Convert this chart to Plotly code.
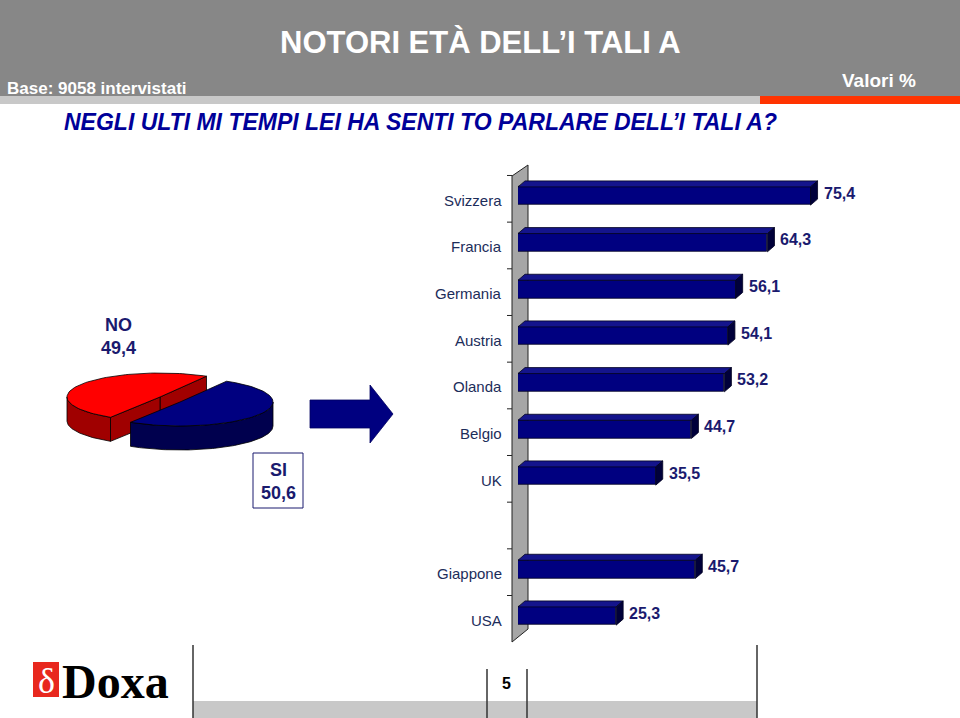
import numpy as np
import plotly.graph_objects as go

# ---------------- data ----------------
countries = ["Svizzera", "Francia", "Germania", "Austria", "Olanda", "Belgio", "UK", "Giappone", "USA"]
values = [75.4, 64.3, 56.1, 54.1, 53.2, 44.7, 35.5, 45.7, 25.3]
groups = ["Europa"] * 7 + ["Extra"] * 2
pie_labels = ["NO", "SI"]
pie_values = [49.4, 50.6]

title_text = "NOTORI ETÀ DELL’I TALI A"
question_text = "NEGLI ULTI MI TEMPI LEI HA SENTI TO PARLARE DELL’I TALI A?"
base_text = "Base: 9058 intervistati"
unit_text = "Valori %"
page_text = "5"

# ---------------- helpers ----------------
W, H = 960, 718
ARIAL = "Liberation Sans, Arial, sans-serif"
NAVY = "#000080"
TXT_NAVY = "#1a1a6e"


def px(x):
    return x / W


def py(y):
    return 1 - y / H


def fmt(v):
    return f"{v:.1f}".replace(".", ",")


# slot positions with a gap between groups
pos = []
p = 0
prev = None
for g in groups:
    if prev is not None and g != prev:
        p += 1
    pos.append(p)
    p += 1
    prev = g
n_slots = p

fig = go.Figure()

# ---------------- bar chart ----------------
BAR_W = 0.39
X0_PX, PX_PER_UNIT = 518, 3.88
DX = 7 / PX_PER_UNIT
SLOT_PX = 46.67
DY = 6 / SLOT_PX

fig.add_trace(go.Bar(
    x=values, y=pos, orientation="h", width=BAR_W,
    marker=dict(color=NAVY, line=dict(color="#000020", width=0.8)),
    xaxis="x", yaxis="y", hoverinfo="skip",
))

top_x, top_y, side_x, side_y = [], [], [], []
for v, yy in zip(values, pos):
    t = yy - BAR_W / 2
    b = yy + BAR_W / 2
    top_x += [0, v, v + DX, DX, 0, None]
    top_y += [t, t, t - DY, t - DY, t, None]
    side_x += [v, v + DX, v + DX, v, v, None]
    side_y += [t, t - DY, b - DY, b, t, None]

fig.add_trace(go.Scatter(x=top_x, y=top_y, mode="lines", fill="toself",
                         fillcolor="#14148c", line=dict(color="#000020", width=0.8),
                         xaxis="x", yaxis="y", hoverinfo="skip"))
fig.add_trace(go.Scatter(x=side_x, y=side_y, mode="lines", fill="toself",
                         fillcolor="#00003a", line=dict(color="#000020", width=0.8),
                         xaxis="x", yaxis="y", hoverinfo="skip"))

annotations = []
for c, v, yy in zip(countries, values, pos):
    annotations.append(dict(x=v + DX, y=yy, xref="x", yref="y", text=fmt(v),
                            xanchor="left", yanchor="middle", xshift=4, yshift=3,
                            showarrow=False,
                            font=dict(family=ARIAL, size=16, color=TXT_NAVY, weight="bold")))
    annotations.append(dict(x=px(504), y=yy, xref="paper", yref="y", text=c,
                            xanchor="right", yanchor="middle", yshift=-4,
                            showarrow=False,
                            font=dict(family=ARIAL, size=15, color="#1c2d5a")))

# ---------------- 3D pie (drawn on a pixel-unit axis) ----------------
RX, RY, DEPTH = 93, 24, 24
START = 60.0
centers = [(160, 397), (180, 402)]
top_colors = ["#ff0000", "#000080"]
wall_colors = ["#a00000", "#00004e"]
edge = dict(color="#000000", width=0.8)


def ell(cx, cy, t0, t1, n=80):
    ts = np.radians(np.linspace(t0, t1, n))
    return cx + RX * np.cos(ts), cy - RY * np.sin(ts)


angles = []
a = START
for v in pie_values:
    span = 360 * v / sum(pie_values)
    angles.append((a, a + span))
    a += span

for i, ((t0, t1), (cx, cy)) in enumerate(zip(angles, centers)):
    segs = []
    for base in (0, 360):
        s0 = max(t0, base + 180)
        s1 = min(t1, base + 360)
        if s1 > s0:
            segs.append((s0, s1))
    for s0, s1 in segs:
        xs, ys = ell(cx, cy, s0, s1)
        wx = list(xs) + list(xs[::-1]) + [xs[0]]
        wy = list(ys) + list((ys + DEPTH)[::-1]) + [ys[0]]
        fig.add_trace(go.Scatter(x=wx, y=wy, mode="lines", fill="toself",
                                 fillcolor=wall_colors[i], line=edge,
                                 xaxis="x2", yaxis="y2", hoverinfo="skip"))
    if i == 0:
        for ang in (t0, t1):
            ex, ey = ell(cx, cy, ang, ang, 1)
            fx = [ex[0], cx, cx, ex[0], ex[0]]
            fy = [ey[0], cy, cy + DEPTH, ey[0] + DEPTH, ey[0]]
            fig.add_trace(go.Scatter(x=fx, y=fy, mode="lines", fill="toself",
                                     fillcolor=wall_colors[i], line=edge,
                                     xaxis="x2", yaxis="y2", hoverinfo="skip"))
    xs, ys = ell(cx, cy, t0, t1)
    fig.add_trace(go.Scatter(x=[cx] + list(xs) + [cx], y=[cy] + list(ys) + [cy],
                             mode="lines", fill="toself", fillcolor=top_colors[i],
                             line=edge, xaxis="x2", yaxis="y2", hoverinfo="skip"))

# arrow
ax_ = [310, 370, 370, 393, 370, 370, 310, 310]
ay_ = [400, 400, 385, 414, 443, 428, 428, 400]
fig.add_trace(go.Scatter(x=ax_, y=ay_, mode="lines", fill="toself", fillcolor=NAVY,
                         line=dict(color="#000060", width=0.8),
                         xaxis="x2", yaxis="y2", hoverinfo="skip"))

pie_label_pos = [(118, 336), (278, 481)]
for lab, v, (lx, ly) in zip(pie_labels, pie_values, pie_label_pos):
    annotations.append(dict(x=px(lx), y=py(ly), xref="paper", yref="paper",
                            text=f"{lab}<br>{fmt(v)}", showarrow=False,
                            xanchor="center", yanchor="middle", align="center",
                            font=dict(family=ARIAL, size=18, color=TXT_NAVY, weight="bold")))

# ---------------- header / footer texts ----------------
annotations += [
    dict(x=px(480), y=py(43), xref="paper", yref="paper", text=title_text,
         showarrow=False, xanchor="center", yanchor="middle",
         font=dict(family=ARIAL, size=31, color="white", weight="bold")),
    dict(x=px(5), y=py(88), xref="paper", yref="paper", text=base_text,
         showarrow=False, xanchor="left", yanchor="middle",
         font=dict(family=ARIAL, size=17, color="white", weight="bold")),
    dict(x=px(918), y=py(81), xref="paper", yref="paper", text=unit_text,
         showarrow=False, xanchor="right", yanchor="middle",
         font=dict(family=ARIAL, size=19, color="white", weight="bold")),
    dict(x=px(420), y=py(122), xref="paper", yref="paper", text=f"<i>{question_text}</i>",
         showarrow=False, xanchor="center", yanchor="middle",
         font=dict(family=ARIAL, size=23, color="#000099", weight="bold")),
    dict(x=px(507), y=py(683), xref="paper", yref="paper", text=page_text,
         showarrow=False, xanchor="center", yanchor="middle",
         font=dict(family=ARIAL, size=16, color="black", weight="bold")),
    dict(x=px(46), y=py(681), xref="paper", yref="paper", text="δ",
         showarrow=False, xanchor="center", yanchor="middle",
         font=dict(family="Liberation Serif, DejaVu Serif, serif", size=36, color="white")),
    dict(x=px(60), y=py(681), xref="paper", yref="paper", text="Doxa",
         showarrow=False, xanchor="left", yanchor="middle",
         font=dict(family="Liberation Serif, DejaVu Serif, serif", size=48, color="black", weight="bold")),
]

# ---------------- shapes ----------------
shapes = [
    dict(type="rect", xref="paper", yref="paper", x0=px(0), x1=px(960), y0=py(0), y1=py(96),
         fillcolor="#878787", line=dict(width=0), layer="below"),
    dict(type="rect", xref="paper", yref="paper", x0=px(0), x1=px(760), y0=py(96), y1=py(104),
         fillcolor="#c8c8c8", line=dict(width=0), layer="below"),
    dict(type="rect", xref="paper", yref="paper", x0=px(760), x1=px(960), y0=py(96), y1=py(104),
         fillcolor="#ff3300", line=dict(width=0), layer="below"),
    dict(type="path", xref="paper", yref="paper",
         path=f"M {px(512)},{py(176)} L {px(528)},{py(165)} L {px(528)},{py(629)} L {px(512)},{py(642)} Z",
         fillcolor="#a6a6a6", line=dict(color="#222222", width=1), layer="below"),
    dict(type="rect", xref="paper", yref="paper", x0=px(253), x1=px(303), y0=py(453), y1=py(508),
         fillcolor="white", line=dict(color="#1a1a6e", width=1), layer="below"),
    dict(type="rect", xref="paper", yref="paper", x0=px(193), x1=px(757), y0=py(701), y1=py(718),
         fillcolor="#c8c8c8", line=dict(width=0), layer="below"),
    dict(type="rect", xref="paper", yref="paper", x0=px(33), x1=px(59), y0=py(662), y1=py(697),
         fillcolor="#e8281e", line=dict(width=0), layer="below"),
]
for xl, y0 in ((193, 645), (757, 645), (487, 669), (527, 669)):
    shapes.append(dict(type="line", xref="paper", yref="paper", x0=px(xl), x1=px(xl),
                       y0=py(y0), y1=py(718), line=dict(color="#333333", width=1.5)))
for k in range(n_slots + 1):
    shapes.append(dict(type="line", xref="paper", yref="y", x0=px(507), x1=px(512),
                       y0=k - 0.5 + 0.06, y1=k - 0.5 + 0.06,
                       line=dict(color="#222222", width=1)))

fig.update_layout(
    width=W, height=H, margin=dict(l=0, r=0, t=0, b=0),
    paper_bgcolor="white", plot_bgcolor="rgba(0,0,0,0)", showlegend=False,
    xaxis=dict(domain=[px(X0_PX), px(X0_PX + 100 * PX_PER_UNIT)], range=[0, 100],
               visible=False, fixedrange=True),
    yaxis=dict(domain=[py(172.67 + n_slots * SLOT_PX), py(172.67)],
               range=[n_slots - 0.5, -0.5], visible=False, fixedrange=True),
    xaxis2=dict(domain=[0, px(480)], range=[0, 480], visible=False, anchor="y2"),
    yaxis2=dict(domain=[py(520), py(300)], range=[520, 300], visible=False, anchor="x2"),
    shapes=shapes, annotations=annotations,
    bargap=0,
)

fig.write_html("out.html")
